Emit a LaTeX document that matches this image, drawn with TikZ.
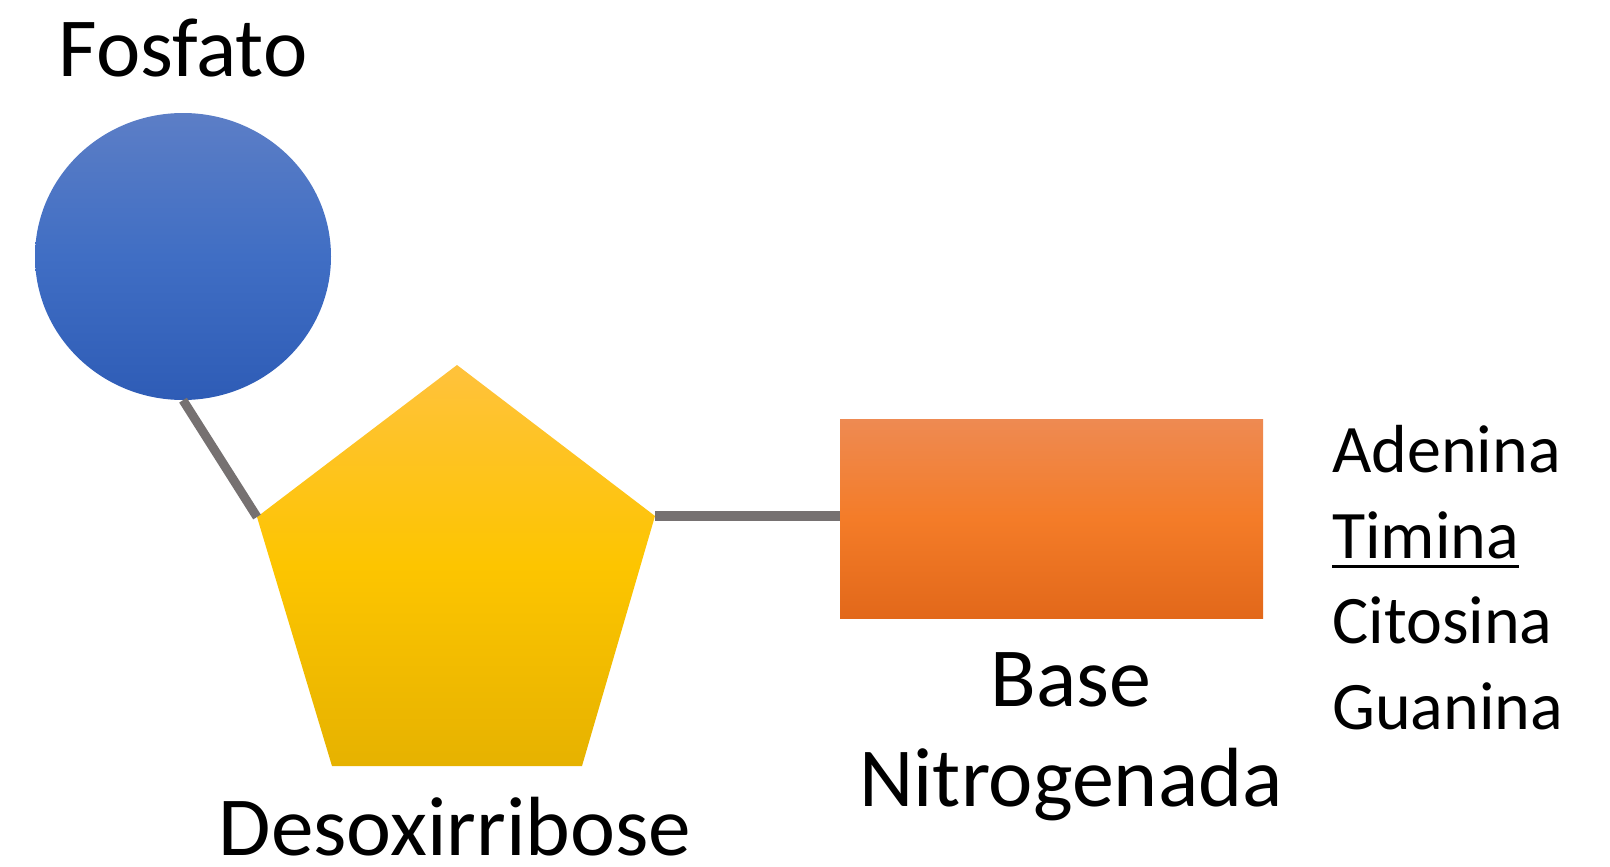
\documentclass[tikz,border=0pt]{standalone}
\usepackage{fontspec}
\setmainfont{Carlito}
\usetikzlibrary{shapes.geometric}
\definecolor{bluetop}{RGB}{92,126,198}
\definecolor{bluemid}{RGB}{64,110,196}
\definecolor{bluebot}{RGB}{46,92,182}
\definecolor{yeltop}{RGB}{255,194,60}
\definecolor{yelmid}{RGB}{253,197,0}
\definecolor{yelbot}{RGB}{230,178,0}
\definecolor{ortop}{RGB}{238,138,82}
\definecolor{ormid}{RGB}{244,124,40}
\definecolor{orbot}{RGB}{226,104,26}
\definecolor{linkgray}{RGB}{118,113,113}
\tikzset{
  bigtxt/.style={inner sep=0pt, anchor=base, font=\fontsize{84}{100}\selectfont},
  listtxt/.style={inner sep=0pt, anchor=base west, font=\fontsize{68}{80}\selectfont},
  link/.style={draw=linkgray, line cap=butt},
}
\begin{document}
\begin{tikzpicture}[x=1pt,y=-1pt]
\useasboundingbox (0,0) rectangle (1610,867);
% phosphate
\node[ellipse, minimum width=296pt, minimum height=287pt, inner sep=0pt,
      top color=bluetop, bottom color=bluebot, middle color=bluemid, draw=none]
      (fosf) at (183,256.5) {};
% sugar
\coordinate (pT) at (457,365);
\coordinate (pL) at (257,517);
\coordinate (pR) at (655,516);
\coordinate (pBL) at (332,766);
\coordinate (pBR) at (582,766);
\shade[top color=yeltop, bottom color=yelbot, middle color=yelmid]
  (pT) -- (pR) -- (pBR) -- (pBL) -- (pL) -- cycle;
% base
\node[rectangle, minimum width=423pt, minimum height=199pt, inner sep=0pt,
      top color=ortop, bottom color=orbot, middle color=ormid, draw=none]
      (base) at (1051.5,518.5) {};
% connectors
\draw[link, line width=9pt] (fosf.south) -- (pL);
\draw[link, line width=10pt] (pR) -- (pR -| base.west);
% labels
\node[bigtxt] (lfosf) at (183,77) {Fosfato};
\node[bigtxt, xscale=1.015] (ldes) at (455,855) {Desoxirribose};
\node[bigtxt] (lbase) at (1071,706) {Base};
\node[bigtxt] (lnitro) at (1071,806) {Nitrogenada};
\node[listtxt] (ade) at (1332,472) {Adenina};
\node[listtxt] (tim) at (1332,558) {Timina};
\node[listtxt] (cit) at (1332,643) {Citosina};
\node[listtxt] (gua) at (1332,729) {Guanina};
\draw[line width=3pt] ([yshift=-8pt]tim.base west) -- ([yshift=-8pt]tim.base east);
\end{tikzpicture}
\end{document}
